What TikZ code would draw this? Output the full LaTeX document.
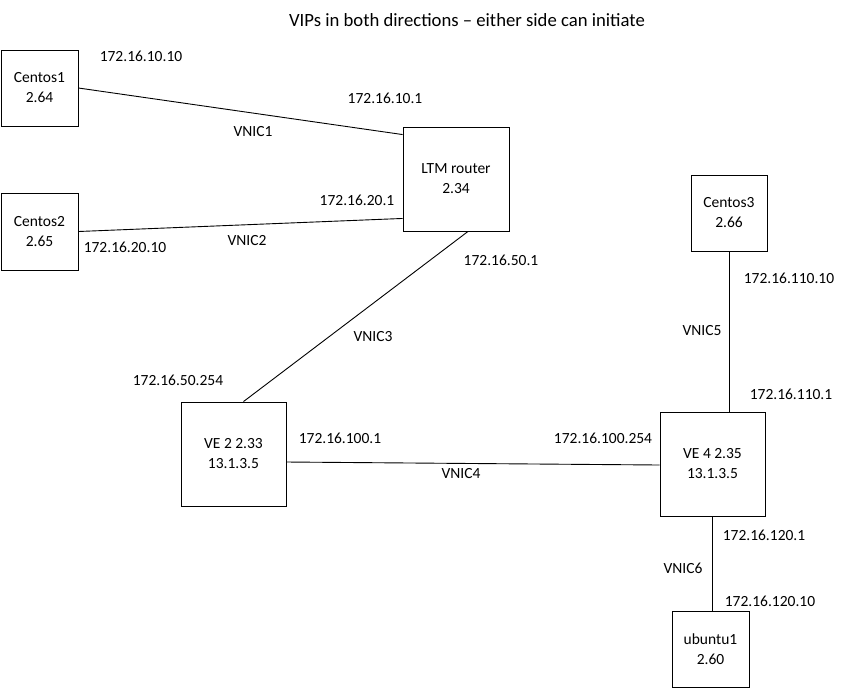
\documentclass[tikz,border=0pt]{standalone}
\usepackage{fontspec}
\setmainfont{Carlito}
\begin{document}
\begin{tikzpicture}[x=1pt,y=-1pt,line width=0.9pt,
	host/.style={draw,rectangle,inner sep=0pt,align=center,
		font=\fontsize{15.5}{20}\selectfont},
	ip/.style={inner sep=0pt,font=\fontsize{15.5}{18}\selectfont}]
	%vips.pdf
	\useasboundingbox (0,0) rectangle (845,689);
	\node (title) at (467,20) {\fontsize{18.7}{22}\selectfont VIPs in both directions -- either side can initiate};
	% hosts
	\node [host,minimum width=77pt,minimum height=76pt] (centos1) at (39.5,88) {Centos1\\2.64};
	\node [host,minimum width=77pt,minimum height=77pt] (centos2) at (39.5,231.5) {Centos2\\2.65};
	\node [host,minimum width=106pt,minimum height=104pt] (ltm) at (456,179) {LTM router\\2.34};
	\node [host,minimum width=76pt,minimum height=76pt] (centos3) at (729,213) {Centos3\\2.66};
	\node [host,minimum width=105pt,minimum height=104pt] (ve2) at (233.5,454) {VE 2 2.33\\13.1.3.5};
	\node [host,minimum width=105pt,minimum height=104pt] (ve4) at (712.5,464) {VE 4 2.35\\13.1.3.5};
	\node [host,minimum width=77pt,minimum height=76pt] (ubuntu1) at (710.5,649) {ubuntu1\\2.60};
	% links
	\draw (centos1.east)--([yshift=-8pt]ltm.north west);
	\draw (centos2.east)--([yshift=13pt]ltm.south west);
	\draw ([xshift=12pt]ltm.south)--([xshift=10pt]ve2.north);
	\draw ([yshift=-8pt]ve2.east)--([yshift=-1pt]ve4.west);
	\draw (centos3.south)--(centos3.south|-ve4.north);
	\draw (ve4.south)--(ve4.south|-ubuntu1.north);
	% addresses
	\node [ip] (a1) at (141,56) {172.16.10.10};
	\node [ip] (a2) at (385,98) {172.16.10.1};
	\node [ip] (n1) at (253,132) {VNIC1};
	\node [ip] (a3) at (357,200) {172.16.20.1};
	\node [ip] (a4) at (125,247) {172.16.20.10};
	\node [ip] (n2) at (247,241) {VNIC2};
	\node [ip] (a5) at (501,260) {172.16.50.1};
	\node [ip] (n3) at (373,337) {VNIC3};
	\node [ip] (a6) at (178,380) {172.16.50.254};
	\node [ip] (a7) at (340,438) {172.16.100.1};
	\node [ip] (a8) at (603,438) {172.16.100.254};
	\node [ip] (n4) at (461,474) {VNIC4};
	\node [ip] (a9) at (789,278) {172.16.110.10};
	\node [ip] (n5) at (702,331) {VNIC5};
	\node [ip] (a10) at (791,394) {172.16.110.1};
	\node [ip] (a11) at (764,535) {172.16.120.1};
	\node [ip] (n6) at (683,568) {VNIC6};
	\node [ip] (a12) at (770,601) {172.16.120.10};
\end{tikzpicture}
\end{document}
